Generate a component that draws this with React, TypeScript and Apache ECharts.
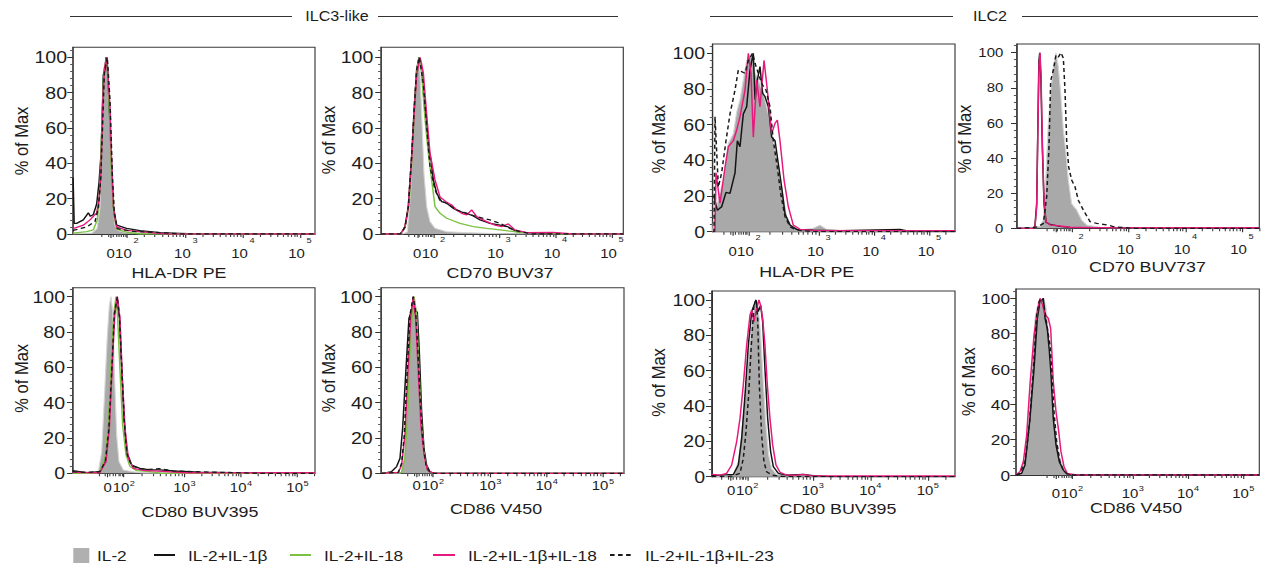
import React, { useEffect, useRef } from "react";
import * as echarts from "echarts";

// ---------------- data ----------------
const conditions = ["IL-2", "IL-2+IL-1β", "IL-2+IL-18", "IL-2+IL-1β+IL-18", "IL-2+IL-1β+IL-23"];
const groupTitles = ["ILC3-like", "ILC2"];
const markerTitles = ["HLA-DR PE", "CD70 BUV37", "HLA-DR PE", "CD70 BUV737", "CD80 BUV395", "CD86 V450", "CD80 BUV395", "CD86 V450"];
const yTickValues = [0, 20, 40, 60, 80, 100];
const yAxisTitle = "% of Max";
const xTickExponents = ["2", "3", "4", "5"]; // 10^2, 10^3, 10^4, 10^5 (plus a "0" tick)

// x values: display units of the biexponential axis (10^3 = 3, 10^4 = 4 ...); y: % of max
const p1_il2 = [[1.025,0],[1.357,0.5],[1.445,3],[1.497,15],[1.515,40],[1.532,70],[1.55,88],[1.585,94],[1.615,100],[1.638,92],[1.664,75],[1.69,45],[1.725,15],[1.76,5],[1.813,2],[1.935,1],[2.285,0.6],[2.723,0.2],[3.25,0],[5.263,0]];
const p1_b = [[1.026,32],[1.045,6],[1.088,6],[1.205,8],[1.293,12],[1.33,10],[1.38,11],[1.439,17],[1.48,29],[1.515,45],[1.544,75],[1.555,90],[1.585,93],[1.602,100],[1.625,97],[1.672,63],[1.73,15.5],[1.789,5],[1.964,3.2],[2.198,1.9],[2.548,0.8],[2.898,0.4],[3.2,0],[5.263,0]];
const p1_g = [[1.025,0.5],[1.264,1.3],[1.38,2.3],[1.45,8],[1.497,25],[1.532,63],[1.567,93],[1.614,100],[1.66,72],[1.701,31],[1.742,10],[1.8,2.6],[1.964,1],[2.2,0],[5.263,0]];
const p1_p = [[1.025,3],[1.205,5],[1.322,8],[1.439,12],[1.48,19],[1.514,34],[1.544,72],[1.573,93],[1.614,100],[1.672,72],[1.707,34],[1.742,12],[1.789,4],[1.964,2],[2.373,0.8],[2.7,0],[5.263,0]];
const p1_d = [[1.025,2],[1.264,4],[1.409,7],[1.468,14.5],[1.509,30.6],[1.544,63],[1.573,91],[1.625,100],[1.672,76],[1.713,34],[1.748,12],[1.8,3],[2.081,1.5],[2.548,0.8],[2.9,0],[5.263,0]];

const p2_il2 = [[0.912,0],[1.3,0],[1.378,1.3],[1.437,25],[1.484,63],[1.531,91],[1.584,100],[1.602,91],[1.637,63],[1.673,34],[1.72,15.5],[1.779,7],[1.867,3.2],[2.074,1.3],[2.369,0.8],[2.782,0.4],[3.1,0],[5.2,0]];
const p2_b = [[0.912,0],[1.25,0],[1.277,1],[1.336,4],[1.395,15.5],[1.454,44],[1.501,72],[1.543,93],[1.584,100],[1.631,93],[1.673,76],[1.72,63],[1.749,49],[1.796,42],[1.838,30.6],[1.897,23],[1.985,18.3],[2.074,17.4],[2.192,14.5],[2.31,12.6],[2.428,11.7],[2.546,10.2],[2.664,8],[2.841,6],[3.018,5],[3.165,4],[3.313,1.3],[3.49,0.8],[3.962,0.4],[4.3,0],[5.2,0]];
const p2_g = [[0.912,0],[1.25,0],[1.336,3.2],[1.413,19],[1.472,49],[1.513,76],[1.555,95],[1.59,100],[1.631,91],[1.673,72],[1.708,59],[1.749,45.7],[1.808,30.6],[1.867,15.5],[1.956,11.7],[2.074,8.9],[2.31,6],[2.546,4.2],[2.782,3.2],[3.018,2.3],[3.372,0.9],[3.844,0.8],[4.1,0],[5.2,0]];
const p2_p = [[0.912,0],[1.25,0],[1.277,1],[1.336,4],[1.395,15],[1.454,42],[1.501,70],[1.543,90],[1.602,100],[1.631,96],[1.661,91],[1.732,63],[1.779,45.7],[1.867,30.6],[1.956,21],[2.062,18.3],[2.162,16.4],[2.251,13.6],[2.339,11.7],[2.428,10.8],[2.516,13.6],[2.605,9.8],[2.782,7],[2.929,5],[3.047,4.2],[3.165,5.7],[3.283,2.3],[3.49,0.8],[3.962,0.9],[4.3,0],[5.2,0]];
const p2_d = [[0.912,0],[1.25,0],[1.277,1],[1.336,4],[1.395,15.5],[1.454,44],[1.501,72],[1.543,93],[1.59,100],[1.661,85],[1.72,60.8],[1.779,38],[1.867,25],[1.956,19],[2.074,17.4],[2.251,13.6],[2.428,11.7],[2.605,9.8],[2.841,8],[3.018,6],[3.195,3.2],[3.372,1.3],[3.6,0],[5.2,0]];

const p3_il2 = [[1.076,0],[1.1,10],[1.148,14],[1.268,29],[1.359,49.5],[1.45,55],[1.51,67],[1.57,74],[1.63,85],[1.691,96],[1.781,100],[1.842,89],[1.902,85],[1.992,77.6],[2.083,66],[2.173,51],[2.234,40],[2.294,29],[2.354,19.6],[2.415,8.4],[2.505,2.8],[2.656,0.9],[2.897,1.9],[3.018,3.7],[3.139,1.3],[3.501,0.6],[3.983,0.4],[4.466,1],[4.6,0],[5.462,0]];
const p3_b = [[1.076,20],[1.1,19.6],[1.16,12],[1.238,14],[1.317,22],[1.389,21.5],[1.48,33],[1.522,51],[1.57,47.6],[1.63,66],[1.691,70],[1.751,90.7],[1.811,100],[1.842,74],[1.884,85],[1.932,92.5],[1.98,77.6],[2.023,75.7],[2.083,70],[2.143,53],[2.204,51],[2.264,38],[2.324,25],[2.385,10],[2.475,3.7],[2.596,1.3],[2.897,0.9],[3.38,0.6],[4.466,1.3],[4.6,0.4],[5.462,0.3]];
const p3_p = [[1.076,0],[1.118,0],[1.136,33],[1.208,16],[1.299,36],[1.359,47.7],[1.45,51],[1.51,57],[1.57,64.5],[1.661,79.4],[1.721,100],[1.769,88.8],[1.811,53],[1.872,85],[1.932,70],[2.005,96],[2.065,79.4],[2.143,55],[2.204,60.7],[2.246,62.6],[2.294,51],[2.367,29],[2.445,14],[2.535,3.7],[2.656,1.3],[2.958,0.6],[5.462,0.6]];
const p3_d = [[1.076,0],[1.1,0],[1.118,64.5],[1.178,25],[1.238,33],[1.317,51],[1.389,66],[1.48,79.4],[1.54,90.7],[1.6,89.7],[1.661,88.8],[1.721,96],[1.799,100],[1.842,94.4],[1.902,88.8],[1.962,83],[2.041,79.4],[2.113,70],[2.173,51],[2.246,36],[2.306,21.5],[2.385,8.4],[2.475,2.8],[2.596,0.9],[2.9,0],[5.462,0]];

const p4_il2 = [[1.012,0],[1.248,0.4],[1.425,1],[1.484,4.7],[1.531,31],[1.572,60],[1.619,79],[1.661,92],[1.708,100],[1.749,92],[1.791,77],[1.838,56],[1.879,44.6],[1.926,27.5],[1.985,14],[2.074,10.4],[2.162,4.7],[2.251,1.9],[2.487,0.6],[2.7,0],[5.306,0]];
const p4_b = [[1.012,0],[1.307,0],[1.336,1.5],[1.366,14],[1.389,62],[1.405,95],[1.42,100],[1.44,86],[1.466,46],[1.496,14],[1.531,3.5],[1.602,2.2],[1.779,1.1],[1.956,0.5],[2.31,0.3],[5.306,0.2]];
const p4_p = [[1.012,0],[1.307,0],[1.336,1],[1.366,12],[1.389,60],[1.407,92],[1.425,100],[1.442,88],[1.466,50],[1.496,16],[1.531,3.8],[1.602,1.9],[1.779,1.3],[1.956,0.6],[2.31,0.4],[5.306,0.3]];
const p4_d = [[1.012,0],[1.307,0.4],[1.395,1],[1.484,2.8],[1.543,18],[1.584,46.5],[1.614,84],[1.661,90],[1.708,98.7],[1.749,97.5],[1.796,100],[1.838,96.8],[1.867,78.7],[1.897,50],[1.932,35],[1.985,27.5],[2.044,23.7],[2.103,16],[2.192,10.4],[2.31,3.8],[2.428,2.8],[2.605,1.9],[2.723,1],[2.9,0.4],[3.1,0],[5.306,0]];

const p5_il2 = [[1.021,0],[1.44,0],[1.475,1],[1.534,12],[1.593,50],[1.634,78],[1.67,95],[1.699,100],[1.729,91.5],[1.758,59],[1.799,21.7],[1.841,6.6],[1.917,1.9],[2.094,0.9],[2.3,0],[5.31,0]];
const p5_b = [[1.021,1.5],[1.268,0.4],[1.504,1],[1.593,6.6],[1.652,23.6],[1.711,59],[1.752,89.6],[1.799,96],[1.847,89.6],[1.888,59],[1.929,31],[1.976,12.3],[2.065,4.7],[2.212,2.8],[2.389,1.9],[2.566,1.9],[2.802,1.3],[3.274,0.6],[3.864,0.4],[4.2,0],[5.31,0]];
const p5_g = [[1.021,0],[1.44,0],[1.504,1],[1.593,8.5],[1.652,27],[1.711,69],[1.752,91.5],[1.788,100],[1.817,87.7],[1.858,59],[1.906,27],[1.965,10.4],[2.035,3.8],[2.153,1.5],[2.389,1],[2.6,0],[5.31,0]];
const p5_p = [[1.021,0.5],[1.44,0.3],[1.504,0.6],[1.611,6.6],[1.67,25.5],[1.723,63],[1.77,91.5],[1.811,100],[1.858,87.7],[1.9,53.8],[1.947,25.5],[2.006,8.5],[2.094,2.8],[2.271,1.7],[2.684,0.9],[3.0,0.3],[5.31,0.3]];
const p5_d = [[1.021,1],[1.268,0.5],[1.504,1],[1.6,7],[1.66,25],[1.715,60],[1.758,90],[1.811,100],[1.85,88],[1.894,57],[1.935,29],[1.98,11],[2.065,4.2],[2.212,2.5],[2.389,2.2],[2.566,2.6],[2.802,1.3],[3.274,0.8],[3.864,0.4],[4.3,0],[5.31,0]];

const p6_il2 = [[1.059,0],[1.4,0],[1.425,1],[1.484,12],[1.526,40.6],[1.573,78],[1.62,95],[1.65,100],[1.68,93],[1.721,59],[1.763,31],[1.81,12],[1.857,3.8],[1.928,0.8],[2.0,0],[5.375,0]];
const p6_b = [[1.059,0],[1.159,0.4],[1.247,1],[1.336,3.8],[1.396,8.5],[1.443,25.5],[1.502,59],[1.555,87.7],[1.603,92.5],[1.632,100],[1.662,90.6],[1.703,91.5],[1.739,68.9],[1.78,35],[1.822,14],[1.869,4.7],[1.928,0.8],[2.0,0],[5.375,0]];
const p6_g = [[1.059,0],[1.425,0.5],[1.484,8.5],[1.532,35],[1.585,78],[1.644,100],[1.692,89.6],[1.733,59],[1.78,27],[1.828,10.4],[1.881,1.9],[1.958,0.3],[2.05,0],[5.375,0]];
const p6_p = [[1.059,0],[1.366,0.5],[1.425,4.7],[1.484,21.7],[1.532,53.8],[1.585,87.7],[1.632,100],[1.674,87.7],[1.721,57.5],[1.768,27],[1.822,10.4],[1.881,1.9],[1.958,0.5],[2.05,0],[5.375,0]];
const p6_d = [[1.059,0],[1.366,0.5],[1.425,5.7],[1.472,21.7],[1.526,59],[1.573,89.6],[1.632,100],[1.674,91.5],[1.709,72.6],[1.751,44],[1.798,19.8],[1.857,4.7],[1.928,0.5],[2.0,0],[5.375,0]];

const p7_il2 = [[1.242,0],[1.5,0.5],[1.618,1.3],[1.705,8.5],[1.763,23.6],[1.821,46],[1.879,67],[1.937,85.8],[1.983,95],[2.023,100],[2.058,93.4],[2.093,80],[2.139,53.8],[2.186,29],[2.232,12.3],[2.284,4.7],[2.371,1.3],[2.777,1.3],[2.893,0.9],[3.1,0],[5.473,0]];
const p7_b = [[1.242,0.6],[1.618,1.3],[1.705,6.6],[1.763,21.7],[1.821,46],[1.879,74.5],[1.937,93.4],[1.977,97],[2.012,100],[2.052,93.4],[2.093,97],[2.128,87.7],[2.168,61],[2.215,33],[2.267,14],[2.313,5.7],[2.401,1.9],[2.545,0.9],[2.835,1.3],[3.009,0.6],[3.3,0],[5.473,0]];
const p7_p = [[1.242,1.3],[1.386,0.9],[1.502,1.9],[1.589,6.6],[1.676,19.8],[1.734,33],[1.792,52],[1.85,74.5],[1.908,91.5],[1.937,94.3],[1.977,87.7],[2.023,95],[2.064,100],[2.093,97],[2.128,89.6],[2.168,74.5],[2.209,52],[2.255,33],[2.302,18],[2.36,6.6],[2.43,2.5],[2.545,0.9],[2.719,0.9],[2.835,1.3],[2.951,0.6],[3.473,0.4],[5.473,0.4]];
const p7_d = [[1.242,0],[1.6,0.3],[1.734,1.9],[1.792,10.4],[1.838,25.5],[1.884,46],[1.931,74.5],[1.977,97],[2.012,100],[2.041,89.6],[2.07,52],[2.11,23.6],[2.151,8.5],[2.197,2.8],[2.284,0.9],[2.5,0],[5.473,0]];

const p8_il2 = [[0.886,0],[0.928,0.9],[0.988,1.9],[1.049,9.4],[1.109,28],[1.169,56.6],[1.23,88.7],[1.29,98],[1.333,96],[1.381,100],[1.423,96],[1.453,88.7],[1.501,62],[1.561,35.8],[1.622,18.9],[1.682,9.4],[1.742,3.8],[1.803,0.8],[1.9,0],[5.29,0]];
const p8_b = [[0.886,0],[0.928,0.4],[0.988,0.9],[1.049,5.7],[1.139,32],[1.212,60],[1.272,88.7],[1.32,98],[1.381,100],[1.411,88.7],[1.453,83],[1.489,70],[1.519,56.6],[1.561,32],[1.61,17],[1.67,7.5],[1.742,2.8],[1.803,0.8],[1.9,0],[5.29,0]];
const p8_p = [[0.886,0],[0.898,0.4],[0.958,1.9],[1.019,7.5],[1.079,22.6],[1.139,51],[1.212,79],[1.272,92.5],[1.32,100],[1.369,96],[1.411,90.6],[1.471,88.7],[1.513,83],[1.561,52.8],[1.61,35.8],[1.652,26.4],[1.7,13.2],[1.755,4.7],[1.815,0.9],[1.923,0.4],[2.0,0],[5.29,0]];
const p8_d = [[0.886,0],[0.958,0.9],[1.049,7.5],[1.127,28],[1.2,60],[1.26,90.6],[1.308,98.5],[1.369,100],[1.411,92.5],[1.453,83],[1.501,73.6],[1.531,60],[1.574,35.8],[1.622,18.9],[1.682,7.5],[1.742,2.8],[1.803,0.8],[1.9,0],[5.29,0]];

// [IL-2, IL-2+IL-1β, IL-2+IL-18, IL-2+IL-1β+IL-18, IL-2+IL-1β+IL-23] for each panel
const panelSeries: (number[][] | null)[][] = [
  [p1_il2, p1_b, p1_g, p1_p, p1_d],
  [p2_il2, p2_b, p2_g, p2_p, p2_d],
  [p3_il2, p3_b, null, p3_p, p3_d],
  [p4_il2, p4_b, null, p4_p, p4_d],
  [p5_il2, p5_b, p5_g, p5_p, p5_d],
  [p6_il2, p6_b, p6_g, p6_p, p6_d],
  [p7_il2, p7_b, null, p7_p, p7_d],
  [p8_il2, p8_b, null, p8_p, p8_d],
];

// ---------------- layout / style ----------------
const S = 1.15; // horizontal stretch of the original figure
const W = 1270 / S;
const H = 569;
const X = (v: number) => v / S;
const FONT = "Liberation Sans, Arial, Helvetica, sans-serif";
const TXT = "#1c1c1c";
const lineColors = ["#d6d6d6", "#141414", "#7cc242", "#e8197d", "#1a1a1a"];
const fillGray = "#a9a9a9";
const TICK_FS = 13;

// axis calibration per panel in image pixels: x3 = pixel of 10^3, dpx = pixels per decade,
// two = position (display units) of the 10^2 tick; the "0" tick sits just left of it
const layout = [
  { left: 73, right: 315, y100: 57.3, y0: 234, top: 47.3, x3: 185.8, dpx: 57.1, two: 1.967, row: 0, tickOff: 18.3, xt: [179, 272.5], yt: [21.7, 141], ylf: 17, ylm: 6 },
  { left: 381, right: 623.3, y100: 57.3, y0: 234, top: 47.3, x3: 499, dpx: 56.5, two: 1.84, row: 0, tickOff: 18, xt: [500, 272.5], yt: [329, 140], ylf: 17, ylm: 7.7 },
  { left: 712.7, right: 955, y100: 53.3, y0: 231.7, top: 44, x3: 819, dpx: 55.25, two: 1.73, row: 0, tickOff: 18.3, xt: [806.7, 272], yt: [659, 139], ylf: 17, ylm: 7.7 },
  { left: 1016.7, right: 1259.3, y100: 52.7, y0: 228.3, top: 44, x3: 1129, dpx: 56.5, two: 1.99, row: 0, tickOff: 20.5, xt: [1147.5, 266.5], yt: [965, 139], ylf: 13, ylm: 13.4 },
  { left: 72.7, right: 315, y100: 296.7, y0: 473.3, top: 287.7, x3: 184.5, dpx: 56.5, two: 1.926, row: 1, tickOff: 13.4, xt: [200, 511.7], yt: [21.7, 378.3], ylf: 17, ylm: 7.7 },
  { left: 381, right: 624, y100: 296.7, y0: 473.3, top: 287.7, x3: 490.3, dpx: 56.3, two: 1.98, row: 1, tickOff: 11.4, xt: [496, 509], yt: [329, 378], ylf: 17, ylm: 8.3 },
  { left: 711.7, right: 955, y100: 300, y0: 476.7, top: 291, x3: 812.8, dpx: 57.5, two: 1.86, row: 1, tickOff: 12.5, xt: [838, 509], yt: [659, 382.5], ylf: 17, ylm: 6.7 },
  { left: 1016, right: 1259.3, y100: 298.3, y0: 475, top: 289, x3: 1132.8, dpx: 55.25, two: 1.9, row: 1, tickOff: 17, xt: [1136, 508], yt: [968.8, 381.7], ylf: 15, ylm: 6 },
];

function minorTickValues(zero: number, two: number, xmin: number, xmax: number) {
  const bases = [zero - 0.35, two, 3, 4, 5, 6];
  const out: number[] = [];
  for (let k = 0; k < bases.length - 1; k++) {
    for (let m = 2; m <= 9; m++) {
      const v = bases[k] + (bases[k + 1] - bases[k]) * Math.log10(m);
      if (v > xmin && v < xmax) out.push(v);
    }
  }
  return out;
}

function buildOption() {
  const grid: any[] = [];
  const xAxis: any[] = [];
  const yAxis: any[] = [];
  const series: any[] = [];
  const graphic: any[] = [];

  layout.forEach((p, i) => {
    const xmin = 3 + (p.left - p.x3) / p.dpx;
    const xmax = 3 + (p.right - p.x3) / p.dpx;
    const ppu = (p.y0 - p.y100) / 100;
    const ymax = (p.y0 - p.top) / ppu;
    const zero = p.two - 16.2 / p.dpx;
    const decades = [p.two, 3, 4, 5];
    const top = p.row === 0;
    const margin = top ? p.tickOff - 16.5 : p.tickOff - 7.5;

    grid.push({
      left: X(p.left), top: p.top, width: X(p.right - p.left), height: p.y0 - p.top,
      show: true, borderColor: "#3a3a3a", borderWidth: 1, backgroundColor: "#ffffff",
      containLabel: false, outerBoundsMode: "none",
    });

    const rich = top
      ? {
          z: { fontSize: TICK_FS, lineHeight: 24, verticalAlign: "bottom", color: TXT, fontFamily: FONT },
          b: { fontSize: TICK_FS, lineHeight: 15, verticalAlign: "bottom", color: TXT, fontFamily: FONT },
          s: { fontSize: 8, lineHeight: 24, verticalAlign: "top", padding: [0, 0, 0, 1.5], color: TXT, fontFamily: FONT },
        }
      : {
          z: { fontSize: TICK_FS, lineHeight: 15, verticalAlign: "bottom", color: TXT, fontFamily: FONT },
          b: { fontSize: TICK_FS, lineHeight: 15, verticalAlign: "bottom", color: TXT, fontFamily: FONT },
          s: { fontSize: 8, lineHeight: 9, verticalAlign: "top", padding: [0, 0, 0, 0.5], color: TXT, fontFamily: FONT },
        };

    // decade axis: 10^2 ... 10^5
    xAxis.push({
      gridIndex: i, type: "value", position: "bottom", min: xmin, max: xmax,
      axisLine: { show: true, onZero: false, lineStyle: { color: "#333", width: 1 } },
      axisTick: { show: true, customValues: [zero, ...decades], length: 4, lineStyle: { color: "#333" } },
      axisLabel: {
        show: true, customValues: decades, margin,
        showMinLabel: true, showMaxLabel: true, hideOverlap: false,
        rich,
        formatter: (v: number) => {
          let idx = 0, best = 1e9;
          decades.forEach((m, j) => { const d = Math.abs(m - v); if (d < best) { best = d; idx = j; } });
          return `{b|10}{s|${xTickExponents[idx]}}`;
        },
      },
      splitLine: { show: false },
    });
    // companion axis: minor ticks and the "0" label
    xAxis.push({
      gridIndex: i, type: "value", position: "bottom", min: xmin, max: xmax,
      axisLine: { show: false, onZero: false },
      axisTick: { show: true, customValues: minorTickValues(zero, p.two, xmin, xmax), length: 3, lineStyle: { color: "#444" } },
      axisLabel: {
        show: true, customValues: [zero], margin, rich, showMinLabel: true, showMaxLabel: true,
        formatter: () => "{z|0}",
      },
      splitLine: { show: false },
    });

    yAxis.push({
      gridIndex: i, type: "value", min: 0, max: ymax, interval: 20,
      axisLine: { show: true, onZero: false, lineStyle: { color: "#333", width: 1 } },
      axisTick: { show: true, customValues: yTickValues, length: 5, lineStyle: { color: "#333" } },
      minorTick: { show: true, splitNumber: 5, length: 2.5, lineStyle: { color: "#555" } },
      axisLabel: { show: true, customValues: yTickValues, showMinLabel: true, fontSize: p.ylf, margin: X(p.ylm), color: TXT, fontFamily: FONT },
      splitLine: { show: false },
      minorSplitLine: { show: false },
    });

    panelSeries[i].forEach((d, k) => {
      if (!d) return;
      const base: any = {
        type: "line", name: conditions[k], xAxisIndex: 2 * i, yAxisIndex: i, data: d,
        showSymbol: false, symbol: "none", silent: true, clip: true,
      };
      if (k === 0) {
        series.push({ ...base, z: 2, lineStyle: { color: lineColors[0], width: 1 }, areaStyle: { color: fillGray, opacity: 1 } });
      } else {
        series.push({ ...base, z: 3, lineStyle: { color: lineColors[k], width: 1.3, type: k === 4 ? [4, 3] : "solid" } });
      }
    });

    // axis titles
    graphic.push({
      type: "text", x: X(p.xt[0]), y: p.xt[1],
      style: { text: markerTitles[i], fontSize: 15.5, fontFamily: FONT, fill: TXT, align: "center", verticalAlign: "middle", textAlign: "center", textVerticalAlign: "middle" },
    });
    graphic.push({
      type: "text", x: X(p.yt[0]), y: p.yt[1], rotation: Math.PI / 2,
      style: { text: yAxisTitle, fontSize: 16.5, fontFamily: FONT, fill: TXT, align: "center", verticalAlign: "middle", textAlign: "center", textVerticalAlign: "middle" },
    });
  });

  // group headers
  const headers = [
    { t: groupTitles[0], cx: 337, l1: [70, 292], l2: [378, 618] },
    { t: groupTitles[1], cx: 990, l1: [710, 953], l2: [1022, 1258] },
  ];
  headers.forEach((h) => {
    graphic.push({ type: "line", shape: { x1: X(h.l1[0]), y1: 16.5, x2: X(h.l1[1]), y2: 16.5 }, style: { stroke: "#333", lineWidth: 1 } });
    graphic.push({ type: "line", shape: { x1: X(h.l2[0]), y1: 16.5, x2: X(h.l2[1]), y2: 16.5 }, style: { stroke: "#333", lineWidth: 1 } });
    graphic.push({
      type: "text", x: X(h.cx), y: 16,
      style: { text: h.t, fontSize: 14, fontFamily: FONT, fill: TXT, align: "center", verticalAlign: "middle", textAlign: "center", textVerticalAlign: "middle" },
    });
  });

  // legend
  const ly = 555;
  graphic.push({ type: "rect", shape: { x: X(73.3), y: 548, width: X(16), height: 15 }, style: { fill: "#b0b0b0" } });
  const legendItems = [
    { lx: null as any, tx: 97 },
    { lx: [154, 175], tx: 188 },
    { lx: [290, 311], tx: 324 },
    { lx: [433, 455], tx: 468 },
    { lx: [610, 632], tx: 645 },
  ];
  legendItems.forEach((it, k) => {
    if (it.lx) {
      graphic.push({
        type: "line", shape: { x1: X(it.lx[0]), y1: ly, x2: X(it.lx[1]), y2: ly },
        style: { stroke: k === 4 ? "#1a1a1a" : lineColors[k], lineWidth: 2, lineDash: k === 4 ? [4, 3] : null },
      });
    }
    graphic.push({
      type: "text", x: X(it.tx), y: ly,
      style: { text: conditions[k], fontSize: 15, fontFamily: FONT, fill: TXT, align: "left", verticalAlign: "middle", textAlign: "left", textVerticalAlign: "middle" },
    });
  });

  return {
    animation: false,
    backgroundColor: "#ffffff",
    tooltip: { show: false },
    grid, xAxis, yAxis, series, graphic,
  };
}

export default function App() {
  const ref = useRef<HTMLDivElement>(null);
  useEffect(() => {
    if (!ref.current) return;
    const chart = echarts.init(ref.current, null, { renderer: "svg" });
    chart.setOption(buildOption() as any);
    return () => chart.dispose();
  }, []);
  return (
    <div
      ref={ref}
      style={{
        position: "absolute", left: 0, top: 0, width: W, height: H,
        transform: `scaleX(${S})`, transformOrigin: "0 0", background: "#fff",
      }}
    />
  );
}
